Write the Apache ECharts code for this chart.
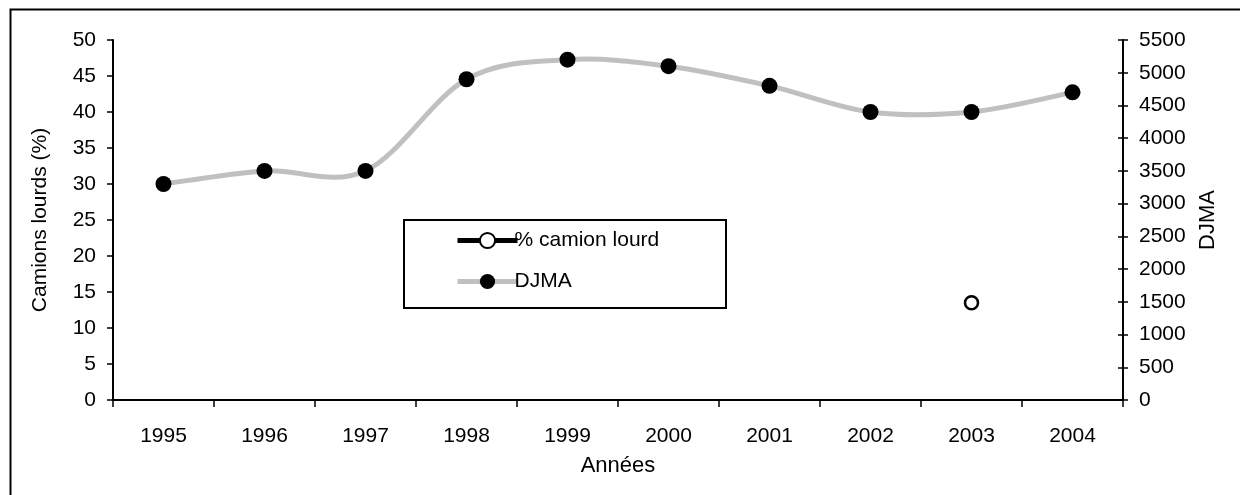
<!DOCTYPE html>
<html>
<head>
<meta charset="utf-8">
<script src="https://cdn.jsdelivr.net/npm/echarts@6/dist/echarts.min.js"></script>
<style>
  html, body { margin: 0; padding: 0; background: #fff; }
  #chart { width: 1240px; height: 495px; }
</style>
</head>
<body>
<div id="chart"></div>
<script>
// Years on the horizontal axis
const annees = ['1995', '1996', '1997', '1998', '1999', '2000', '2001', '2002', '2003', '2004'];
// Share of heavy trucks (%), only measured in 2003
const camionLourd = [null, null, null, null, null, null, null, null, 13.5, null];
// Average annual daily traffic
const djma = [3300, 3500, 3500, 4900, 5200, 5100, 4800, 4400, 4400, 4700];

const FONT = '"Liberation Sans", Arial, sans-serif';
const chart = echarts.init(document.getElementById('chart'));

const axisLine = { show: true, lineStyle: { color: '#000', width: 2 } };
const tickStyle = { color: '#000', width: 1.5 };
const labelStyle = { fontFamily: FONT, fontSize: 21, color: '#000' };
const nameStyle = { fontFamily: FONT, fontSize: 22, color: '#000' };

// Smoothed DJMA curve: cubic Bezier segments with Catmull-Rom control points,
// positioned through the chart's own coordinate system.
function renderDjmaCurve(params, api) {
  if (params.dataIndex !== 0) return null;
  const pts = djma.map((v, i) => api.coord([i, v]));
  const n = pts.length;
  let d = 'M' + pts[0][0] + ' ' + pts[0][1];
  for (let i = 0; i < n - 1; i++) {
    const p0 = pts[Math.max(i - 1, 0)];
    const p1 = pts[i];
    const p2 = pts[i + 1];
    const p3 = pts[Math.min(i + 2, n - 1)];
    const c1x = p1[0] + (p2[0] - p0[0]) / 6;
    const c1y = p1[1] + (p2[1] - p0[1]) / 6;
    const c2x = p2[0] - (p3[0] - p1[0]) / 6;
    const c2y = p2[1] - (p3[1] - p1[1]) / 6;
    d += ' C' + c1x + ' ' + c1y + ' ' + c2x + ' ' + c2y + ' ' + p2[0] + ' ' + p2[1];
  }
  return {
    type: 'path',
    shape: { pathData: d },
    style: { fill: 'none', stroke: '#c0c0c0', lineWidth: 5, lineCap: 'round', lineJoin: 'round' },
    silent: true
  };
}

chart.setOption({
  animation: false,
  backgroundColor: '#fff',
  textStyle: { fontFamily: FONT },
  grid: { left: 113, right: 117, top: 40, bottom: 95 },
  graphic: [
    {
      type: 'rect', left: 8, top: 7,
      shape: { width: 1260, height: 520 },
      style: { fill: 'none', stroke: '#000', lineWidth: 2 },
      silent: true
    },
    {
      type: 'rect', left: 403, top: 219,
      shape: { width: 322, height: 88 },
      style: { fill: '#fff', stroke: '#000', lineWidth: 2 },
      z: 10, silent: true
    }
  ],
  legend: {
    left: 450, top: 225,
    orient: 'vertical',
    itemWidth: 60, itemHeight: 19, itemGap: 20,
    z: 20,
    textStyle: { fontFamily: FONT, fontSize: 21, color: '#000', padding: [0, 0, 0, -8] },
    data: [
      {
        name: '% camion lourd',
        lineStyle: { color: '#000', width: 5, opacity: 1 }
      },
      {
        name: 'DJMA',
        lineStyle: { color: '#c0c0c0', width: 5, opacity: 1 }
      }
    ]
  },
  xAxis: {
    type: 'category',
    data: annees,
    boundaryGap: true,
    name: 'Années',
    nameLocation: 'middle',
    nameGap: 55,
    nameTextStyle: nameStyle,
    axisLine: axisLine,
    axisTick: { show: true, length: 7, lineStyle: tickStyle },
    axisLabel: Object.assign({ margin: 26 }, labelStyle),
    splitLine: { show: false }
  },
  yAxis: [
    {
      type: 'value', min: 0, max: 50, interval: 5, position: 'left',
      name: 'Camions lourds (%)',
      nameLocation: 'middle', nameGap: 62,
      nameTextStyle: { fontFamily: FONT, fontSize: 21, color: '#000' },
      axisLine: axisLine,
      axisTick: { show: true, length: 6, lineStyle: tickStyle },
      axisLabel: Object.assign({ margin: 17 }, labelStyle),
      splitLine: { show: false }
    },
    {
      type: 'value', min: 0, max: 5500, interval: 500, position: 'right',
      name: 'DJMA',
      nameLocation: 'middle', nameGap: 74,
      nameTextStyle: nameStyle,
      axisLine: axisLine,
      axisTick: { show: true, length: 5, lineStyle: tickStyle },
      axisLabel: Object.assign({ margin: 16, formatter: v => String(v) }, labelStyle),
      splitLine: { show: false }
    },
    {
      // inner half of the right axis ticks, so they cross the axis line
      type: 'value', min: 0, max: 5500, interval: 500, position: 'right',
      axisLine: { show: false },
      axisTick: { show: true, inside: true, length: 5, lineStyle: tickStyle },
      axisLabel: { show: false },
      splitLine: { show: false }
    }
  ],
  series: [
    {
      name: 'DJMA curve',
      type: 'custom',
      coordinateSystem: 'cartesian2d',
      yAxisIndex: 1,
      data: djma.map((v, i) => [i, v]),
      renderItem: renderDjmaCurve,
      z: 3,
      silent: true
    },
    {
      name: '% camion lourd',
      type: 'line',
      yAxisIndex: 0,
      data: camionLourd,
      symbol: 'circle',
      symbolSize: 13,
      lineStyle: { color: '#000', width: 5 },
      itemStyle: { color: '#fff', borderColor: '#000', borderWidth: 2.5 },
      z: 5
    },
    {
      name: 'DJMA',
      type: 'line',
      yAxisIndex: 1,
      data: djma,
      symbol: 'circle',
      symbolSize: 16,
      lineStyle: { color: '#c0c0c0', width: 5, opacity: 0 },
      itemStyle: { color: '#000', borderColor: '#000', borderWidth: 0 },
      z: 4
    }
  ]
});
</script>
</body>
</html>
